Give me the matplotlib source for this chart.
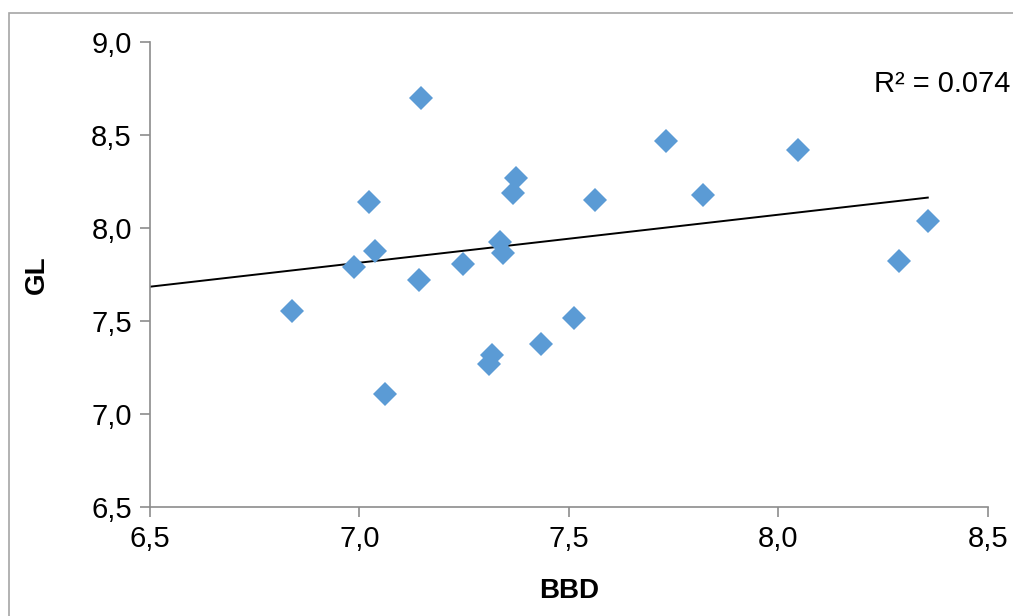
import numpy as np
import matplotlib.pyplot as plt
from matplotlib.patches import Rectangle
from matplotlib.ticker import FuncFormatter

plt.rcParams['font.family'] = ['Liberation Sans', 'DejaVu Sans']

# BBD vs GL values
bbd = [6.840, 6.988, 7.024, 7.038, 7.062, 7.143, 7.148, 7.248, 7.310, 7.317, 7.336,
       7.343, 7.367, 7.374, 7.433, 7.512, 7.562, 7.731, 7.821, 8.048, 8.288, 8.357]
gl = [7.554, 7.790, 8.140, 7.876, 7.108, 7.720, 8.699, 7.806, 7.269, 7.317, 7.925,
      7.866, 8.188, 8.269, 7.376, 7.516, 8.151, 8.468, 8.177, 8.419, 7.823, 8.038]
# linear trendline as drawn (GL at x = 6.5 and at the largest BBD)
trend_gl = [7.684, 8.163]
r2_label = "R² = 0.074"

x = np.array(bbd)
y = np.array(gl)

fig = plt.figure(figsize=(10.13, 6.16), dpi=100)
fig.patches.append(Rectangle((9 / 1013, -0.05), 1.0, 1.05 - 13 / 616, transform=fig.transFigure,
                             fill=False, edgecolor='#a6a6a6', linewidth=1.2))
ax = fig.add_axes([0.148, 0.177, 0.827, 0.755])

ax.plot([6.5, x.max()], trend_gl, color='black', linewidth=1.4, zorder=2)
ax.plot(x, y, linestyle='none', marker='D', markersize=12.5, color='#5b9bd5',
        markeredgewidth=0, zorder=3)

ax.set_xlim(6.5, 8.5)
ax.set_ylim(6.5, 9.0)
ax.set_xticks(np.arange(6.5, 8.51, 0.5))
ax.set_yticks(np.arange(6.5, 9.01, 0.5))
fmt = FuncFormatter(lambda v, p: f"{v:.1f}".replace('.', ','))
ax.xaxis.set_major_formatter(fmt)
ax.yaxis.set_major_formatter(fmt)

for s in ['top', 'right']:
    ax.spines[s].set_visible(False)
for s in ['left', 'bottom']:
    ax.spines[s].set_color('#8c8c8c')
    ax.spines[s].set_linewidth(1.2)
ax.tick_params(direction='out', length=7, width=1.2, color='#8c8c8c',
               labelsize=21, pad=6)

ax.set_xlabel('BBD', fontsize=20, fontweight='bold', labelpad=18)
ax.set_ylabel('GL', fontsize=20, fontweight='bold', labelpad=30)
ax.text(8.555, 8.775, r2_label, fontsize=21, ha='right', va='center', clip_on=False)

fig.savefig('out.png', dpi=100)
